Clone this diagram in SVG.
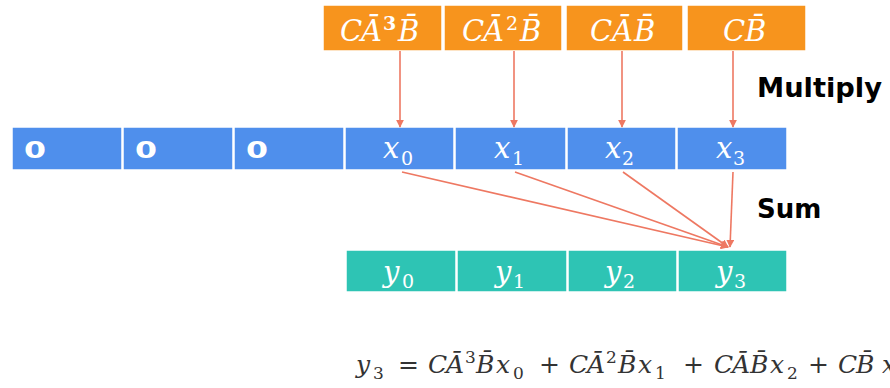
<svg xmlns="http://www.w3.org/2000/svg" width="890" height="388" viewBox="0 0 890 388">
<style>
.or{fill:#F7941D;stroke:#fff;stroke-width:1.5}
.bl{fill:#4F8FEC;stroke:#fff;stroke-width:1.5}
.gr{fill:#2EC4B4;stroke:#fff;stroke-width:1.5}
.m{font-family:"DejaVu Serif","Liberation Serif",serif;font-style:italic;fill:#fff;font-size:29px}
.s{font-style:normal;font-size:19px}
.z{font-family:"DejaVu Sans",sans-serif;font-weight:bold;font-size:23px;fill:#fff}
.lab{font-family:"DejaVu Sans",sans-serif;font-weight:bold;font-size:26px;fill:#000}
.eq{font-family:"DejaVu Serif","Liberation Serif",serif;font-style:italic;font-size:25px;fill:#333}
.eq .u{font-style:normal}
.eq .s{font-size:17px}
.ln{stroke:#EE7862;stroke-width:1.6;fill:none}
</style>
<defs>
<marker id="ah" viewBox="0 0 10 10" refX="9" refY="5" markerWidth="5" markerHeight="5" orient="auto" markerUnits="strokeWidth">
<path d="M0,0 L10,5 L0,10 z" fill="#EE7862"/>
</marker>
</defs>
<g id="coef3"><rect class="or" x="323" y="5" width="119" height="46"/><text class="m" y="41"><tspan x="340">C</tspan><tspan x="361">Ā</tspan><tspan class="s" x="383" y="30" font-weight="bold">3</tspan><tspan x="398" y="41">B̄</tspan></text></g>
<g id="coef2"><rect class="or" x="444" y="5" width="118" height="46"/><text class="m" y="41"><tspan x="462">C</tspan><tspan x="483">Ā</tspan><tspan class="s" x="506" y="30">2</tspan><tspan x="520" y="41">B̄</tspan></text></g>
<g id="coef1"><rect class="or" x="566" y="5" width="117" height="46"/><text class="m" y="41"><tspan x="590">C</tspan><tspan x="612">Ā</tspan><tspan x="634">B̄</tspan></text></g>
<g id="coef0"><rect class="or" x="687" y="5" width="119" height="46"/><text class="m" y="41"><tspan x="723">C</tspan><tspan x="745">B̄</tspan></text></g>

<g id="pad0"><rect class="bl" x="12" y="127" width="110" height="43"/><text class="z" x="24" y="158" textLength="22" lengthAdjust="spacingAndGlyphs">0</text></g>
<g id="pad1"><rect class="bl" x="123" y="127" width="110" height="43"/><text class="z" x="135" y="158" textLength="22" lengthAdjust="spacingAndGlyphs">0</text></g>
<g id="pad2"><rect class="bl" x="234" y="127" width="110" height="43"/><text class="z" x="246" y="158" textLength="22" lengthAdjust="spacingAndGlyphs">0</text></g>
<g id="x0"><rect class="bl" x="345" y="127" width="109" height="43"/><text class="m" x="383" y="158">x<tspan class="s" x="401" y="165">0</tspan></text></g>
<g id="x1"><rect class="bl" x="455" y="127" width="111" height="43"/><text class="m" x="494" y="158">x<tspan class="s" x="512" y="165">1</tspan></text></g>
<g id="x2"><rect class="bl" x="567" y="127" width="109" height="43"/><text class="m" x="605" y="158">x<tspan class="s" x="622" y="165">2</tspan></text></g>
<g id="x3"><rect class="bl" x="677" y="127" width="110" height="43"/><text class="m" x="716" y="158">x<tspan class="s" x="733" y="165">3</tspan></text></g>

<g id="y0"><rect class="gr" x="346" y="250" width="110" height="42"/><text class="m" x="383" y="282">y<tspan class="s" x="402" y="288">0</tspan></text></g>
<g id="y1"><rect class="gr" x="457" y="250" width="110" height="42"/><text class="m" x="495" y="282">y<tspan class="s" x="513" y="288">1</tspan></text></g>
<g id="y2"><rect class="gr" x="568" y="250" width="109" height="42"/><text class="m" x="605" y="282">y<tspan class="s" x="623" y="288">2</tspan></text></g>
<g id="y3"><rect class="gr" x="678" y="250" width="109" height="42"/><text class="m" x="716" y="282">y<tspan class="s" x="734" y="288">3</tspan></text></g>

<g id="connectors">
<line class="ln" x1="400" y1="51" x2="400" y2="127" marker-end="url(#ah)"/>
<line class="ln" x1="514" y1="51" x2="514" y2="127" marker-end="url(#ah)"/>
<line class="ln" x1="622" y1="51" x2="622" y2="127" marker-end="url(#ah)"/>
<line class="ln" x1="733" y1="51" x2="733" y2="127" marker-end="url(#ah)"/>
<line class="ln" x1="402" y1="172" x2="728" y2="247" marker-end="url(#ah)"/>
<line class="ln" x1="515" y1="172" x2="728" y2="247" marker-end="url(#ah)"/>
<line class="ln" x1="623" y1="172" x2="728" y2="247" marker-end="url(#ah)"/>
<line class="ln" x1="733" y1="172" x2="730" y2="247" marker-end="url(#ah)"/>
</g>

<text class="lab" x="757" y="97" textLength="125" lengthAdjust="spacingAndGlyphs">Multiply</text>
<text class="lab" x="757" y="218">Sum</text>

<text class="eq" y="373"><tspan x="356">y</tspan><tspan class="u s" x="373" y="379">3</tspan><tspan class="u" x="398" y="373">=</tspan><tspan x="428">C</tspan><tspan x="446">Ā</tspan><tspan class="u s" x="465" y="363">3</tspan><tspan x="476" y="373">B̄</tspan><tspan x="496">x</tspan><tspan class="u s" x="513" y="379">0</tspan><tspan class="u" x="539" y="373">+</tspan><tspan x="569">C</tspan><tspan x="587">Ā</tspan><tspan class="u s" x="606" y="363">2</tspan><tspan x="618" y="373">B̄</tspan><tspan x="638">x</tspan><tspan class="u s" x="655" y="379">1</tspan><tspan class="u" x="683" y="373">+</tspan><tspan x="714">C</tspan><tspan x="732">Ā</tspan><tspan x="750">B̄</tspan><tspan x="770">x</tspan><tspan class="u s" x="787" y="379">2</tspan><tspan class="u" x="808" y="373">+</tspan><tspan x="838">C</tspan><tspan x="856">B̄</tspan><tspan x="882">x</tspan></text>
</svg>
